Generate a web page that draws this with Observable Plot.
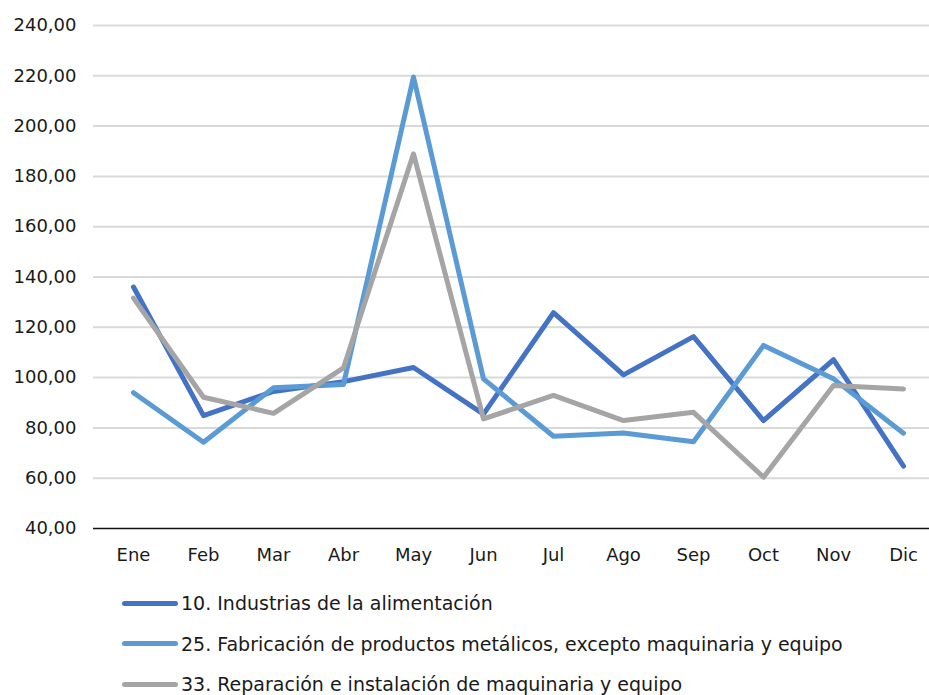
<!DOCTYPE html>
<html>
<head>
<meta charset="utf-8">
<script src="https://cdn.jsdelivr.net/npm/d3@7"></script>
<script src="https://cdn.jsdelivr.net/npm/@observablehq/plot@0.6"></script>
<style>
  body { margin: 0; background: #fff; font-family: "DejaVu Sans", sans-serif; }
  #chart { width: 929px; }
  #legend { padding-top: 8px; }
  .row { height: 40.5px; display: flex; align-items: center; font-size: 19px; color: #1a1a1a; white-space: nowrap; }
  .sw { margin-left: 122px; width: 56px; height: 5px; border-radius: 2.5px; margin-right: 3px; }
</style>
</head>
<body>
<div id="chart"></div>
<div id="legend"></div>
<script>
const months = ["Ene","Feb","Mar","Abr","May","Jun","Jul","Ago","Sep","Oct","Nov","Dic"];
const seriesNames = [
  "10. Industrias de la alimentación",
  "25. Fabricación de productos metálicos, excepto maquinaria y equipo",
  "33. Reparación e instalación de maquinaria y equipo"
];
const s10 = [136.0, 84.9, 94.5, 98.4, 104.0, 85.5, 125.8, 101.1, 116.3, 82.9, 107.1, 64.8];
const s25 = [94.0, 74.3, 96.0, 97.3, 219.5, 99.5, 76.7, 78.0, 74.5, 112.8, 99.5, 77.9];
const s33 = [131.6, 92.2, 85.8, 103.9, 189.0, 83.6, 92.9, 82.9, 86.2, 60.4, 96.9, 95.5];
const colors = ["#4472C4", "#5B9BD5", "#A5A5A5"];
const yTicks = [40, 60, 80, 100, 120, 140, 160, 180, 200, 220, 240];

const seriesValues = [s10, s25, s33];
const data = [];
seriesValues.forEach((vals, si) => {
  vals.forEach((v, i) => data.push({series: seriesNames[si], month: months[i], value: v}));
});

const fmt = d => d.toFixed(2).replace(".", ",");

const chart = Plot.plot({
  width: 929,
  height: 575,
  marginLeft: 93,
  marginRight: 0,
  marginTop: 25,
  marginBottom: 47,
  style: {fontFamily: "DejaVu Sans, sans-serif", fontSize: "18px", color: "#1a1a1a", background: "#fff"},
  x: {type: "point", domain: months, range: [128.3, 906.7], padding: 0, label: null},
  y: {domain: [40, 240], label: null},
  color: {domain: seriesNames, range: colors},
  marks: [
    Plot.ruleY(yTicks.filter(d => d > 40), {stroke: "#D9D9D9", strokeWidth: 2}),
    Plot.ruleY([40], {stroke: "#111", strokeWidth: 1.5}),
    Plot.axisY(yTicks, {tickSize: 0, tickPadding: 17, tickFormat: fmt, fontSize: 18, label: null}),
    Plot.axisX(months, {tickSize: 0, tickPadding: 20, fontSize: 18, label: null}),
    Plot.line(data, {x: "month", y: "value", stroke: "series", z: "series", strokeWidth: 5, strokeLinecap: "round", strokeLinejoin: "round"})
  ]
});
document.getElementById("chart").appendChild(chart);

const legend = document.getElementById("legend");
seriesNames.forEach((name, i) => {
  const row = document.createElement("div");
  row.className = "row";
  const sw = document.createElement("div");
  sw.className = "sw";
  sw.style.background = colors[i];
  const t = document.createElement("span");
  t.textContent = name;
  row.appendChild(sw);
  row.appendChild(t);
  legend.appendChild(row);
});
</script>
</body>
</html>
